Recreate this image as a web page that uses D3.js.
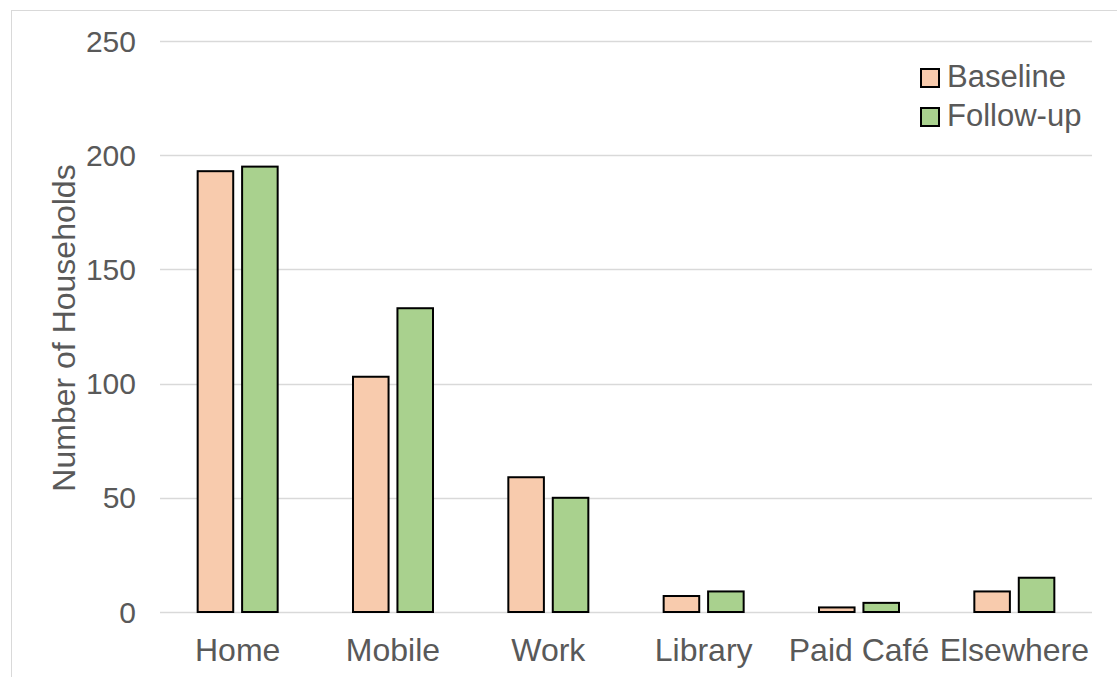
<!DOCTYPE html>
<html>
<head>
<meta charset="utf-8">
<script src="https://cdn.jsdelivr.net/npm/d3@7"></script>
<style>
  body { margin: 0; background: #fff; }
  svg { display: block; font-family: "Liberation Sans", Arial, sans-serif; }
</style>
</head>
<body>
<svg id="chart" width="1117" height="677"></svg>
<script>
var categories = ["Home", "Mobile", "Work", "Library", "Paid Café", "Elsewhere"];
var seriesNames = ["Baseline", "Follow-up"];
var baseline = [193, 103, 59, 7, 2, 9];
var followUp = [195, 133, 50, 9, 4, 15];
var yTicks = [0, 50, 100, 150, 200, 250];
var colors = ["#F8CBAD", "#A9D18E"];

var svg = d3.select("#chart");
var margin = { left: 160, right: 25, top: 41, bottom: 65 };
var width = 1117, height = 677;

// outer chart border
svg.append("rect")
  .attr("x", 11.5).attr("y", 10.5)
  .attr("width", 1120).attr("height", 700)
  .attr("fill", "none").attr("stroke", "#d9d9d9");

var x = d3.scaleBand()
  .domain(categories)
  .range([margin.left, width - margin.right])
  .paddingInner(0).paddingOuter(0);

var xSub = d3.scaleBand()
  .domain(seriesNames)
  .range([0, 80])
  .paddingInner(0.2);

var y = d3.scaleLinear()
  .domain([0, 250])
  .range([height - margin.bottom, margin.top]);

// gridlines
svg.append("g")
  .selectAll("line")
  .data(yTicks)
  .enter().append("line")
    .attr("x1", margin.left)
    .attr("x2", width - margin.right)
    .attr("y1", function(d) { return Math.round(y(d)) + 0.5; })
    .attr("y2", function(d) { return Math.round(y(d)) + 0.5; })
    .attr("stroke", "#d9d9d9")
    .attr("stroke-width", 1.5);

// y tick labels
svg.append("g")
  .selectAll("text")
  .data(yTicks)
  .enter().append("text")
    .attr("x", 136)
    .attr("y", function(d) { return y(d); })
    .attr("dy", "0.35em")
    .attr("text-anchor", "end")
    .attr("fill", "#595959")
    .attr("font-size", 30)
    .text(function(d) { return d; });

// bars
var rows = categories.map(function(c, i) {
  return { cat: c, vals: [
    { name: seriesNames[0], v: baseline[i] },
    { name: seriesNames[1], v: followUp[i] }
  ] };
});

var groups = svg.append("g")
  .selectAll("g")
  .data(rows)
  .enter().append("g")
    .attr("transform", function(d) { return "translate(" + (x(d.cat) + x.bandwidth() / 2 - 40) + ",0)"; });

groups.selectAll("rect")
  .data(function(d) { return d.vals; })
  .enter().append("rect")
    .attr("x", function(d) { return xSub(d.name); })
    .attr("width", xSub.bandwidth())
    .attr("y", function(d) { return y(d.v); })
    .attr("height", function(d) { return y(0) - y(d.v); })
    .attr("fill", function(d, i) { return colors[i]; })
    .attr("stroke", "#000")
    .attr("stroke-width", 2);

// category labels
svg.append("g")
  .selectAll("text")
  .data(categories)
  .enter().append("text")
    .attr("x", function(d) { return x(d) + x.bandwidth() / 2; })
    .attr("y", 661)
    .attr("text-anchor", "middle")
    .attr("fill", "#595959")
    .attr("font-size", 32)
    .text(function(d) { return d; });

// y axis title
svg.append("text")
  .attr("transform", "translate(75,328) rotate(-90)")
  .attr("text-anchor", "middle")
  .attr("fill", "#595959")
  .attr("font-size", 32)
  .text("Number of Households");

// legend
var legend = svg.append("g")
  .selectAll("g")
  .data(seriesNames)
  .enter().append("g")
    .attr("transform", function(d, i) { return "translate(921," + (69 + i * 39) + ")"; });

legend.append("rect")
  .attr("width", 18).attr("height", 18)
  .attr("fill", function(d, i) { return colors[i]; })
  .attr("stroke", "#000")
  .attr("stroke-width", 2);

legend.append("text")
  .attr("x", 26)
  .attr("y", 18)
  .attr("fill", "#595959")
  .attr("font-size", 31)
  .text(function(d) { return d; });
</script>
</body>
</html>
